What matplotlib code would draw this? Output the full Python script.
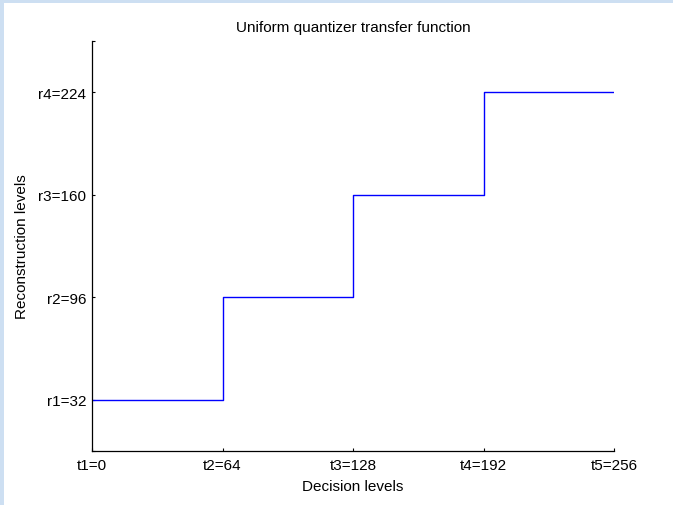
import matplotlib
matplotlib.use("Agg")
import matplotlib.pyplot as plt
from matplotlib.patches import Rectangle

plt.rcParams['font.family'] = ['Liberation Sans', 'DejaVu Sans']

# Decision levels (thresholds) and reconstruction levels
decision_levels = [0, 64, 128, 192, 256]
reconstruction_levels = [32, 96, 160, 224]
x_tick_labels = ["t1=0", "t2=64", "t3=128", "t4=192", "t5=256"]
y_tick_labels = ["r1=32", "r2=96", "r3=160", "r4=224"]

W, H = 673, 506
fig = plt.figure(figsize=(W / 100, H / 100), dpi=100, facecolor='#cddff2')
# white canvas inside the light-blue frame
fig.patches.append(Rectangle((4 / W, 0), 1 - 4 / W, 1 - 4 / H,
                             transform=fig.transFigure, facecolor='white',
                             edgecolor='none', zorder=-10))

ax = fig.add_axes([92 / W, (H - 452) / H, 522 / W, 410 / H])
ax.set_zorder(5)
ax.set_facecolor('white')

# staircase: each interval maps to its reconstruction level
step_y = reconstruction_levels + [reconstruction_levels[-1]]
ax.step(decision_levels, step_y, where='post', color='#0000ff', lw=1.0)

ax.set_xlim(0, 256)
ax.set_ylim(0, 256)
ax.set_xticks(decision_levels)
ax.set_xticklabels(x_tick_labels)
ax.set_yticks([0] + reconstruction_levels + [256])
ax.set_yticklabels([""] + y_tick_labels + [""])

for s in ('top', 'right'):
    ax.spines[s].set_visible(False)
for s in ('left', 'bottom'):
    ax.spines[s].set_linewidth(0.9)
ax.tick_params(direction='in', length=2.5, width=0.8, labelsize=11, pad=4)
ax.tick_params(axis='x', pad=5)

ax.set_title("Uniform quantizer transfer function", fontsize=11, pad=7)
ax.set_xlabel("Decision levels", fontsize=11, labelpad=5)
ax.set_ylabel("Reconstruction levels", fontsize=11, labelpad=7)

fig.savefig("out.png", dpi=100, facecolor=fig.get_facecolor())
